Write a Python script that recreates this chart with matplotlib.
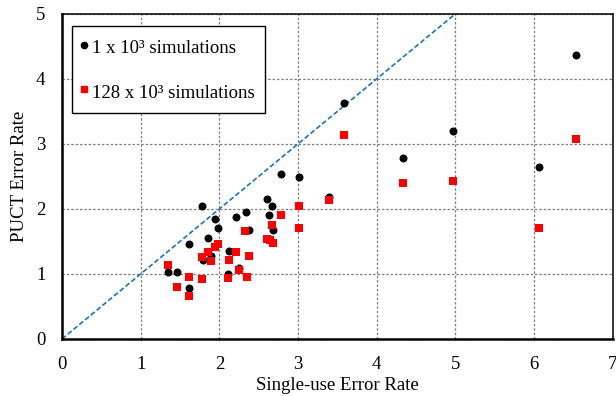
import matplotlib
matplotlib.use('Agg')
import matplotlib.pyplot as plt
from matplotlib.lines import Line2D
import numpy as np

plt.rcParams['font.family'] = ['Liberation Serif', 'DejaVu Serif']

# 1 x 10^3 simulations
x_1k = [1.35, 1.465, 1.62, 1.62, 1.775, 1.79, 1.86, 1.89, 1.944, 1.98, 2.11, 2.12, 2.21, 2.25,
        2.34, 2.38, 2.60, 2.63, 2.67, 2.68, 2.79, 3.01, 3.40, 3.58, 4.34, 4.97, 6.06, 6.53]
y_1k = [1.03, 1.03, 0.78, 1.46, 2.05, 1.21, 1.56, 1.28, 1.84, 1.70, 1.00, 1.36, 1.87, 1.09,
        1.95, 1.68, 2.15, 1.91, 2.05, 1.67, 2.53, 2.49, 2.19, 3.63, 2.79, 3.20, 2.64, 4.36]

# 128 x 10^3 simulations
x_128k = [1.35, 1.465, 1.62, 1.62, 1.775, 1.78, 1.85, 1.89, 1.94, 1.98, 2.11, 2.12, 2.21, 2.25, 2.33,
          2.35, 2.38, 2.60, 2.64, 2.67, 2.68, 2.79, 3.01, 3.01, 3.40, 3.58, 4.34, 4.97, 6.06, 6.53]
y_128k = [1.14, 0.80, 0.96, 0.66, 1.26, 0.92, 1.34, 1.20, 1.41, 1.46, 0.94, 1.22, 1.33, 1.06, 1.66,
          0.95, 1.28, 1.54, 1.52, 1.75, 1.48, 1.91, 2.04, 1.70, 2.14, 3.13, 2.40, 2.43, 1.70, 3.08]

diag = [0, 5]

fig = plt.figure(figsize=(6.16, 3.96), dpi=100)
ax = fig.add_axes([0.1006, 0.144, 0.894, 0.821])

ax.plot(diag, diag, linestyle=(0, (3, 1.5)), color='#1874C8', lw=1.2, zorder=2)
ax.scatter(x_1k, y_1k, s=33, marker='o', color='black', zorder=3, linewidths=0)
ax.scatter(x_128k, y_128k, s=29, marker='s', color='#FF0000', zorder=4, linewidths=0)

ax.set_xlim(0, 7)
ax.set_ylim(0, 5)
ax.set_xticks(range(0, 8))
ax.set_yticks(range(0, 6))
ax.grid(True, color='#7f7f7f', linestyle=(0, (2, 1.5)), lw=0.9)
ax.set_axisbelow(True)
ax.tick_params(axis='x', length=0, labelsize=13.5, pad=12)
ax.tick_params(axis='y', length=0, labelsize=13.5, pad=12)

for s in ['top', 'right']:
    ax.spines[s].set_linewidth(1.1)
for s in ['left', 'bottom']:
    ax.spines[s].set_linewidth(1.8)

ax.set_xlabel('Single-use Error Rate', fontsize=13.5, labelpad=3)
ax.set_ylabel('PUCT Error Rate', fontsize=13.5, labelpad=6)

handles = [Line2D([], [], marker='o', color='black', linestyle='none', markersize=4.5),
           Line2D([], [], marker='s', color='#FF0000', linestyle='none', markersize=4.3)]
leg = ax.legend(handles, ['1 x 10³ simulations', '128 x 10³ simulations'],
                loc='upper left', bbox_to_anchor=(0.0181, 0.963), fontsize=13.5,
                fancybox=False, edgecolor='black', framealpha=1, labelspacing=1.22,
                handlelength=0.18, handleheight=1.4, handletextpad=0.35,
                borderpad=0.55, borderaxespad=0)
leg.get_frame().set_linewidth(1.0)

fig.savefig('out.png', dpi=100)
